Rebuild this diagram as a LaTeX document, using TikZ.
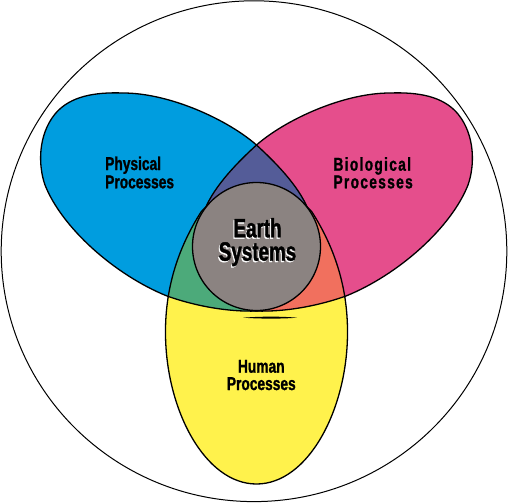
\documentclass[tikz,border=0pt]{standalone}
\usepackage{fontspec}
\newfontfamily\lblfont[FakeStretch=0.74,FakeBold=1.2]{Liberation Sans}
\newfontfamily\biofont[FakeStretch=0.74,FakeBold=1.2,LetterSpace=7]{Liberation Sans}
\newfontfamily\earthfont[FakeStretch=0.71,FakeBold=1.4]{Liberation Sans}
\definecolor{physc}{RGB}{0,157,223}
\definecolor{bioc}{RGB}{229,78,140}
\definecolor{humc}{RGB}{255,242,76}
\definecolor{violc}{RGB}{84,92,152}
\definecolor{greenc}{RGB}{76,170,122}
\definecolor{redc}{RGB}{241,112,94}
\definecolor{earthc}{RGB}{139,131,129}
\newcommand\shadowtext[1]{\leavevmode\rlap{\kern-1pt\raisebox{-1.3pt}{\color{white}#1}}#1}
\newcommand\lobe[1]{({#1*0},145) .. controls ({#1*18.5},162) and ({#1*41.5},185) .. ({#1*51.5},209)
  .. controls ({#1*68.5},245) and ({#1*41.5},309) .. ({#1*0},311)
  .. controls ({#1*-28.5},312) and ({#1*-61.5},306) .. ({#1*-89.5},296)
  .. controls ({#1*-141.5},275) and ({#1*-194.5},228) .. ({#1*-211.5},185)
  .. controls ({#1*-218.5},165) and ({#1*-218.5},135) .. ({#1*-201.5},114)
  .. controls ({#1*-186.5},96) and ({#1*-161.5},92) .. ({#1*-133.5},93)
  .. controls ({#1*-86.5},93) and ({#1*-28.5},120) .. ({#1*0},145) -- cycle}
\newcommand\humanlobe{(0,484) .. controls (-51.5,484) and (-90.5,410) .. (-91,334)
  .. controls (-91.5,285) and (-76.5,245) .. (-55.5,212)
  .. controls (-41.5,195) and (-21.5,195) .. (0,195)
  .. controls (21.5,195) and (41.5,195) .. (55.5,212)
  .. controls (76.5,245) and (91.5,285) .. (91,334)
  .. controls (90.5,410) and (51.5,484) .. (0,484) -- cycle}
\begin{document}
\begin{tikzpicture}[x=1pt,y=-1pt,line join=round,
  edge/.style={draw=black,line width=1.3pt},
  lbl/.style={inner sep=0pt,font=\lblfont\bfseries\fontsize{18.6}{19}\selectfont},
  biolbl/.style={inner sep=0pt,font=\biofont\bfseries\fontsize{18.6}{19}\selectfont},
  earthlbl/.style={inner sep=0pt,font=\earthfont\bfseries\fontsize{26.5}{27}\selectfont}]
\useasboundingbox (-256.5,0) rectangle (251.5,503);
% outer circle
\draw[line width=1pt] (-2.5,251.2) ellipse [x radius=252.8, y radius=250.4];
% lobes
\fill[humc] \humanlobe;
\fill[physc] \lobe{1};
\fill[bioc] \lobe{-1};
\begin{scope}\clip \lobe{1}; \fill[violc] \lobe{-1};\end{scope}
\begin{scope}\clip \lobe{1}; \fill[greenc] \humanlobe;\end{scope}
\begin{scope}\clip \lobe{-1}; \fill[redc] \humanlobe;\end{scope}
\draw[edge] \humanlobe;
\draw[edge] \lobe{1};
\draw[edge] \lobe{-1};
% earth
\draw[edge,fill=earthc] (0,246.5) circle[radius=64];
% small dark stroke under the earth circle
\fill[black] (-13.5,317.7) .. controls (5,316.3) and (25,316.3) .. (40.5,317.7)
  .. controls (25,318.9) and (5,318.9) .. cycle;
% labels
\node[lbl,anchor=base west] (phys1) at (-151.5,170) {Physical};
\node[lbl,anchor=base west] (phys2) at (-151.5,188.3) {Processes};
\node[biolbl,anchor=base west] (bio1) at (76.8,170.7) {Biological};
\node[biolbl,anchor=base west] (bio2) at (76.8,188.3) {Processes};
\node[lbl,anchor=base] (hum1) at (4.8,372.7) {Human};
\node[lbl,anchor=base] (hum2) at (4.8,390) {Processes};
\node[earthlbl,anchor=base] (earth1) at (1,237.3) {\shadowtext{Earth}};
\node[earthlbl,anchor=base] (earth2) at (1,260.7) {\shadowtext{Systems}};
\end{tikzpicture}
\end{document}
